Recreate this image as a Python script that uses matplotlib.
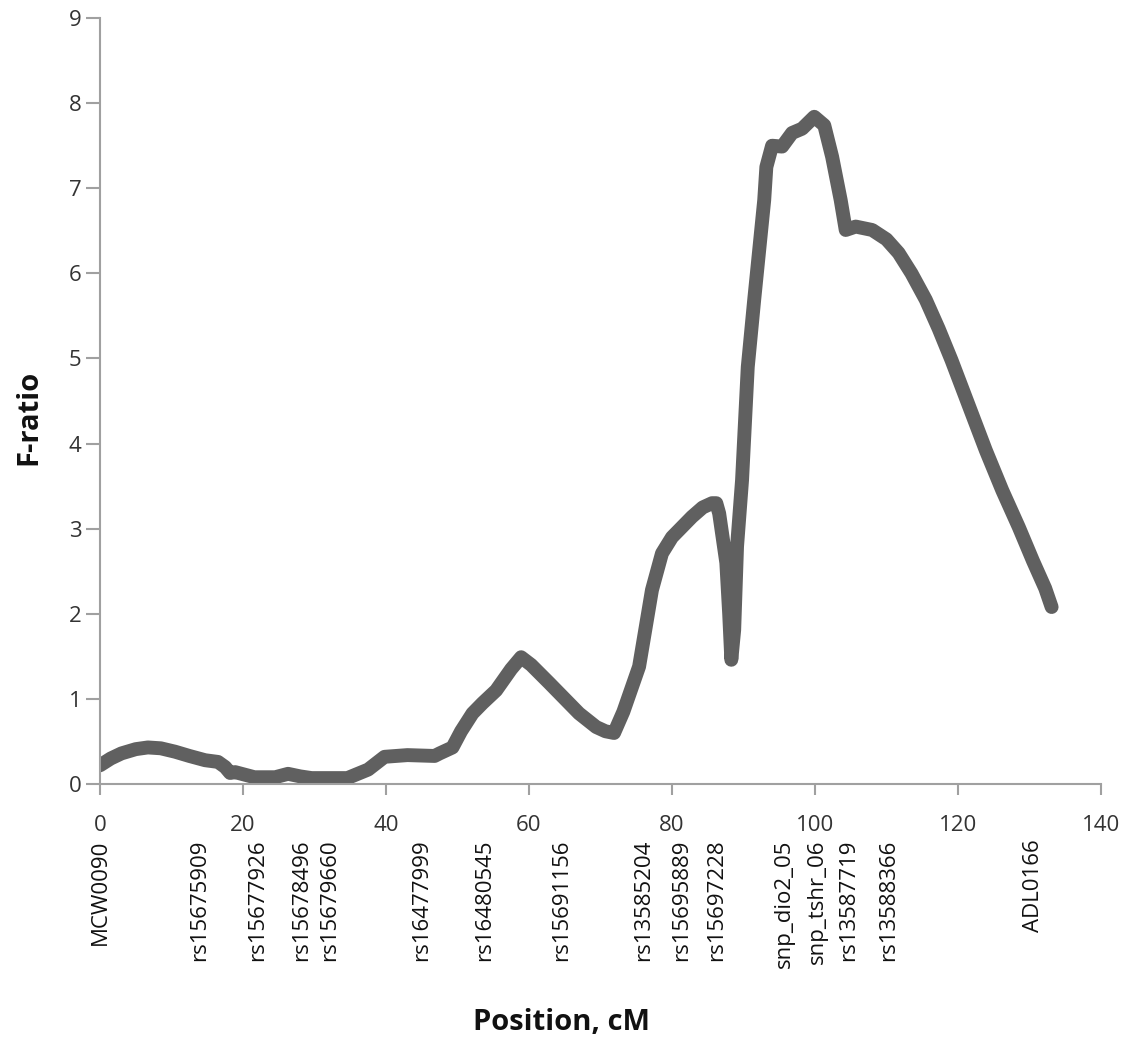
import matplotlib
matplotlib.use('Agg')
import matplotlib.pyplot as plt
import matplotlib.transforms as mtransforms

plt.rcParams['font.family'] = ['Open Sans', 'DejaVu Sans']

# F-ratio profile
position = [0.0, 1.5, 3.0, 5.0, 6.7, 8.5, 10.5, 12.5, 14.7, 16.5, 17.5, 18.2, 18.9, 21.6, 24.5,
            26.3, 28.0, 29.6, 34.6, 37.5, 39.8, 43.0, 46.8, 47.5, 49.3, 50.5, 52.1,
            53.5, 55.4, 57.5, 58.9, 60.3, 62.8, 67.0, 69.4, 70.7, 71.9, 73.2, 75.4,
            77.2, 78.6, 80.0, 82.8, 84.3, 85.6, 86.2, 86.6, 87.6, 88.0, 88.3, 88.7,
            89.1, 89.8, 90.6, 91.5, 92.9, 93.2, 94.0, 95.4, 96.8, 98.2, 99.9, 101.3,
            102.4, 103.6, 104.3, 105.7, 108.0, 110.0, 111.7, 113.5, 115.5, 117.3,
            119.1, 121.5, 123.9, 126.2, 128.5, 130.5, 132.2, 133.1]
f_ratio = [0.22, 0.30, 0.36, 0.41, 0.43, 0.42, 0.38, 0.33, 0.28, 0.26, 0.20, 0.13, 0.14, 0.08,
           0.08, 0.12, 0.09, 0.07, 0.07, 0.17, 0.32, 0.34, 0.33, 0.36, 0.43, 0.62, 0.83,
           0.95, 1.10, 1.35, 1.49, 1.40, 1.19, 0.83, 0.67, 0.62, 0.60, 0.85, 1.38,
           2.28, 2.71, 2.90, 3.14, 3.25, 3.30, 3.30, 3.18, 2.60, 2.00, 1.46, 1.81,
           2.79, 3.57, 4.90, 5.69, 6.86, 7.25, 7.50, 7.49, 7.65, 7.70, 7.84, 7.74,
           7.37, 6.86, 6.51, 6.55, 6.51, 6.40, 6.24, 6.00, 5.69, 5.35,
           4.98, 4.45, 3.92, 3.45, 3.02, 2.62, 2.30, 2.08]

marker_names = ['MCW0090', 'rs15675909', 'rs15677926', 'rs15678496', 'rs15679660',
                'rs16477999', 'rs16480545', 'rs15691156', 'rs13585204', 'rs15695889',
                'rs15697228', 'snp_dio2_05', 'snp_tshr_06', 'rs13587719', 'rs13588366',
                'ADL0166']
marker_pos = [0.0, 14.0, 22.1, 28.2, 32.1, 45.0, 53.8, 64.5, 76.1, 81.4,
              86.2, 95.7, 100.3, 104.7, 110.3, 130.6]

fig = plt.figure(figsize=(11.39, 10.44), dpi=100)
ax = fig.add_axes([0.0878, 0.249, 0.8788, 0.7337])

ax.plot(position, f_ratio, color='#606060', linewidth=10,
        solid_joinstyle='round', solid_capstyle='round')

ax.set_xlim(0, 140)
ax.set_ylim(0, 9)
ax.set_xticks(range(0, 141, 20))
ax.set_yticks(range(0, 10))

for side in ['top', 'right']:
    ax.spines[side].set_visible(False)
for side in ['left', 'bottom']:
    ax.spines[side].set_color('#a0a0a0')
    ax.spines[side].set_linewidth(1.5)
ax.tick_params(axis='both', colors='#a0a0a0', width=1.5, length=8,
               labelsize=16, labelcolor='#333333')
ax.tick_params(axis='y', length=10)
ax.tick_params(axis='x', pad=14)

# marker names under the axis
trans = mtransforms.blended_transform_factory(ax.transData, ax.transAxes)
for name, pos in zip(marker_names, marker_pos):
    ax.text(pos, -0.072, name, transform=trans, rotation=90, ha='center', va='top',
            fontsize=16, color='#111111')

fig.text(0.493, 0.021, 'Position, cM', ha='center', va='center',
         fontsize=21, fontweight='bold', color='#111111')
fig.text(0.025, 0.60, 'F-ratio', ha='center', va='center', rotation=90,
         fontsize=21, fontweight='bold', color='#111111')

fig.savefig('out.png', dpi=100, facecolor='white')
